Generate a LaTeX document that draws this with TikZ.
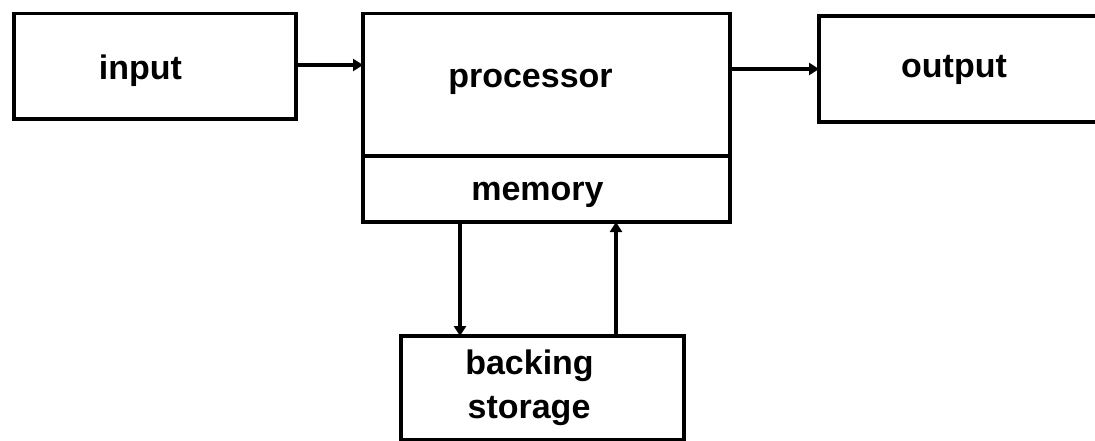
\documentclass[tikz,border=0pt]{standalone}
\usepackage{fontspec}
\setmainfont{Liberation Sans}
\usetikzlibrary{arrows.meta}
\tikzset{
  box/.style={draw=black, line width=3.5pt, rectangle, inner sep=0pt, outer sep=0pt, anchor=north west},
  lbl/.style={font=\fontsize{34}{40}\selectfont\bfseries, inner sep=0pt, anchor=base},
  arr/.style={line width=3.5pt, -{Triangle[length=10pt,width=12pt]}},
  rule/.style={line width=3.5pt}
}
\begin{document}
\begin{tikzpicture}[x=1pt, y=-1pt]
  \useasboundingbox (0,0) rectangle (1095,441);
  \fill[white] (0,0) rectangle (1095,441);

  % boxes (corner at top left, sizes between line centres)
  \node[box, minimum width=282pt, minimum height=105.5pt] (input) at (14,13.5) {};
  \node[box, minimum width=367pt, minimum height=208.5pt] (proc) at (363,13.5) {};
  \node[box, minimum width=292pt, minimum height=106pt] (output) at (819,16) {};
  \node[box, minimum width=283pt, minimum height=104pt] (back) at (401,336) {};

  % processor / memory divider
  \draw[rule] ([yshift=-142.5pt]proc.north west) -- ([yshift=-142.5pt]proc.north east);

  % labels
  \node[lbl] (tin) at (140.5,80) {input};
  \node[lbl] (tproc) at (530.5,88) {processor};
  \node[lbl] (tmem) at (537.5,200) {memory};
  \node[lbl] (tout) at (954,78) {output};
  \node[lbl] (tback) at (529.5,374) {backing};
  \node[lbl] (tstore) at (529,418) {storage};

  % data flow
  \draw[arr] ([yshift=1.25pt]input.east) -- ([yshift=1.25pt]input.east -| proc.west);
  \draw[arr] (output.west -| proc.east) -- (output.west);
  \draw[arr] ([xshift=97pt]proc.south west) -- ([xshift=97pt]proc.south west |- back.north);
  \draw[arr] ([xshift=253pt]proc.south west |- back.north) -- ([xshift=253pt]proc.south west);
\end{tikzpicture}
\end{document}
